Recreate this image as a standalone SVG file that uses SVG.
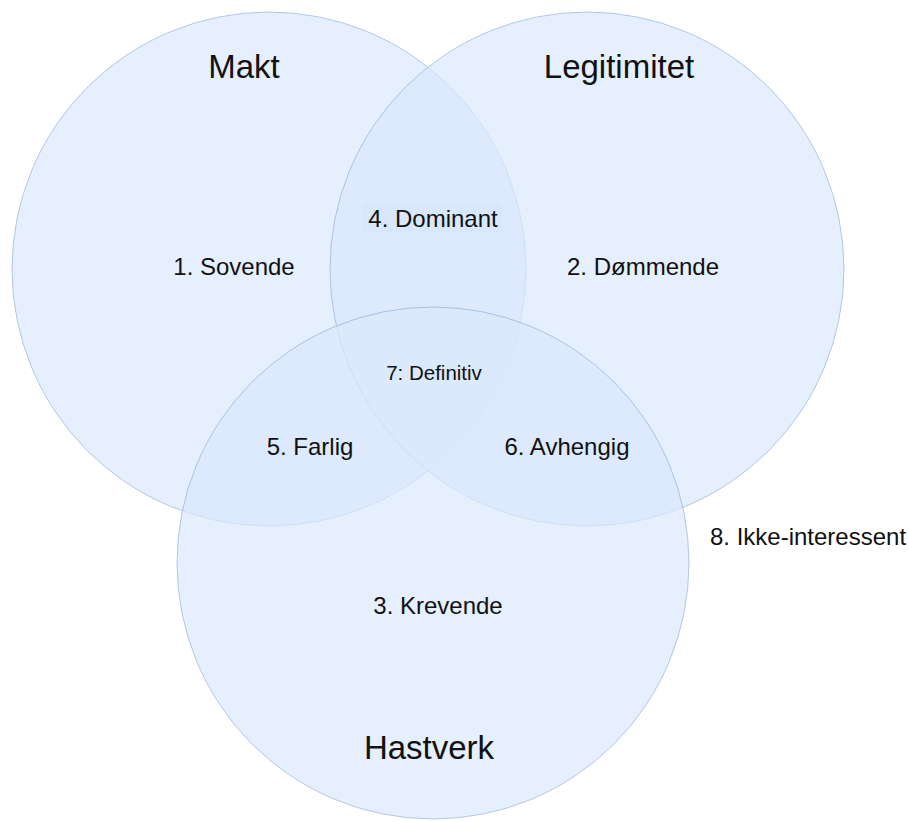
<svg xmlns="http://www.w3.org/2000/svg" width="909" height="821" viewBox="0 0 909 821">
  <style>
    .set { fill: #dae8fc; fill-opacity: 0.7; stroke: #6c8ebf; stroke-opacity: 0.45; stroke-width: 1; }
    .title { font-family: "Liberation Sans", Arial, sans-serif; font-size: 33px; fill: #111; text-anchor: middle; }
    .lbl { font-family: "Liberation Sans", Arial, sans-serif; font-size: 24px; fill: #111; text-anchor: middle; }
    .lbl-sm { font-family: "Liberation Sans", Arial, sans-serif; font-size: 20.5px; fill: #111; text-anchor: middle; }
  </style>
  <rect width="909" height="821" fill="#ffffff"/>

  <!-- three overlapping sets -->
  <g id="makt">
    <circle class="set" cx="269" cy="269" r="257"/>
    <text class="title" x="244" y="78">Makt</text>
  </g>
  <g id="legitimitet">
    <circle class="set" cx="587" cy="269" r="257"/>
    <text class="title" x="619" y="78">Legitimitet</text>
  </g>
  <g id="hastverk">
    <circle class="set" cx="433" cy="563" r="256"/>
    <text class="title" x="429" y="759">Hastverk</text>
  </g>

  <!-- region labels -->
  <g id="sovende"><text class="lbl" x="234" y="275">1. Sovende</text></g>
  <g id="dommende"><text class="lbl" x="643" y="275">2. Dømmende</text></g>
  <g id="krevende"><text class="lbl" x="438" y="614">3. Krevende</text></g>
  <g id="dominant">
    <rect x="363" y="203" width="139" height="30" fill="#d4e3fa" fill-opacity="0.5"/>
    <text class="lbl" x="433" y="227">4. Dominant</text>
  </g>
  <g id="farlig"><text class="lbl" x="310" y="455">5. Farlig</text></g>
  <g id="avhengig"><text class="lbl" x="567" y="455">6. Avhengig</text></g>
  <g id="definitiv"><text class="lbl-sm" x="434" y="380">7: Definitiv</text></g>
  <g id="ikke-interessent"><text class="lbl" x="808" y="545">8. Ikke-interessent</text></g>

  <g id="connectors"/>
</svg>
